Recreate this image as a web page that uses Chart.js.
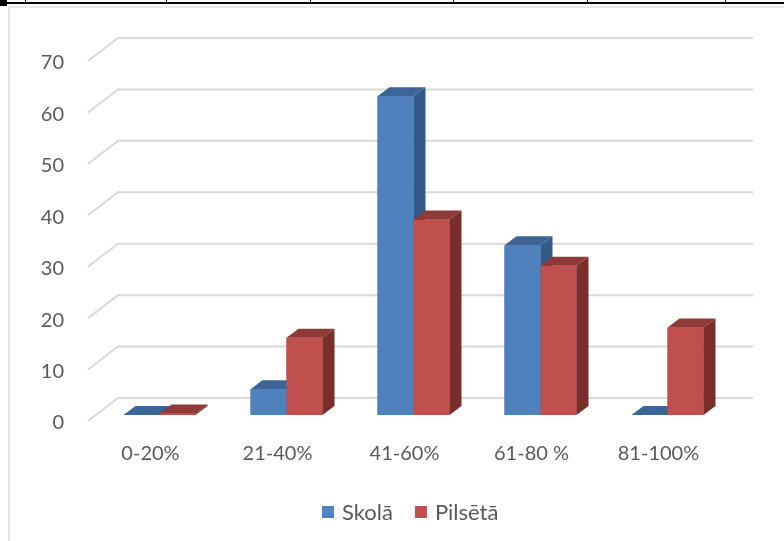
<!DOCTYPE html>
<html>
<head>
<meta charset="utf-8">
<script src="https://cdn.jsdelivr.net/npm/chart.js@4/dist/chart.umd.min.js"></script>
<style>
  html, body { margin: 0; padding: 0; background: #fff; }
  #wrap { position: relative; width: 784px; height: 541px; overflow: hidden; }
  #frame { position: absolute; left: 8px; top: 6px; width: 800px; height: 560px; border: 2px solid #e6e6e6; box-sizing: border-box; }
  .rule { position: absolute; left: 0; top: 2px; width: 784px; height: 2px; background: #000; }
  .tick { position: absolute; top: 0; width: 1px; height: 4px; background: #000; }
  canvas { position: absolute; left: 0; top: 0; }
</style>
</head>
<body>
<div id="wrap">
  <div id="frame"></div>
  <div class="rule"></div>
  <div class="tick" style="left:25px"></div>
  <div class="tick" style="left:166px"></div>
  <div class="tick" style="left:310px"></div>
  <div class="tick" style="left:453px"></div>
  <div class="tick" style="left:587px"></div>
  <div class="tick" style="left:725px"></div>
  <div class="tick" style="left:0px;width:7px;height:6px"></div>
  <canvas id="chart" width="784" height="541"></canvas>
</div>
<script>
// dati
const categories = ['0-20%', '21-40%', '41-60%', '61-80 %', '81-100%'];
const skola = [0, 5, 62, 33, 0];
const pilseta = [0.3, 15, 38, 29, 17];
const yTicks = [0, 10, 20, 30, 40, 50, 60, 70];

const FONT = '20px Lato, "Liberation Sans", sans-serif';
const LEGEND_FONT = '22px Lato, "Liberation Sans", sans-serif';
const TEXT = '#595959';
// 3D dziļums
const DX = 12, DY = -9;            // stabiņa dziļums
const WALL_DX = 22, WALL_DY = -17; // aizmugures siena
const FLOOR_DX = -8, FLOOR_DY = 6; // priekšējā mala

const faces = {
    Skolā: { top: '#3c6496', side: '#345a8a' },
    Pilsētā: { top: '#8e3a38', side: '#7a2e2c' }
};

const grid3d = {
    id: 'grid3d',
    beforeDatasetsDraw(chart) {
        const { ctx, chartArea, scales } = chart;
        ctx.save();
        ctx.strokeStyle = '#d9d9d9';
        ctx.lineWidth = 2;
        ctx.font = FONT;
        ctx.fillStyle = TEXT;
        ctx.textAlign = 'right';
        ctx.textBaseline = 'middle';
        yTicks.forEach(v => {
            const y = scales.y.getPixelForValue(v);
            ctx.beginPath();
            ctx.moveTo(chartArea.left + FLOOR_DX, y + FLOOR_DY);
            ctx.lineTo(chartArea.left + WALL_DX, y + WALL_DY);
            ctx.lineTo(chartArea.right + WALL_DX, y + WALL_DY);
            ctx.stroke();
            ctx.fillText(String(v), chartArea.left - 32, y + FLOOR_DY + 2);
        });
        ctx.textAlign = 'center';
        categories.forEach((c, i) => {
            const x = scales.x.getPixelForValue(i);
            ctx.fillText(c, x - 9, chartArea.bottom + 39);
        });
        ctx.restore();
    },
    // stabiņus pārzīmē kārtībā: zilais, tad sarkanais
    afterDatasetsDraw(chart) {
        const { ctx } = chart;
        ctx.save();
        chart.data.datasets.forEach((ds, di) => {
            const f = faces[ds.label];
            chart.getDatasetMeta(di).data.forEach(bar => {
                const p = bar.getProps(['x', 'y', 'base', 'width'], true);
                const l = p.x - p.width / 2, r = p.x + p.width / 2;
                const t = Math.min(p.y, p.base), b = p.base;
                ctx.fillStyle = ds.backgroundColor;
                ctx.fillRect(l, t, r - l, b - t);
                ctx.fillStyle = f.top;
                ctx.beginPath();
                ctx.moveTo(l, t);
                ctx.lineTo(l + DX, t + DY);
                ctx.lineTo(r + DX, t + DY);
                ctx.lineTo(r, t);
                ctx.closePath();
                ctx.fill();
                if (b - t > 0.5) {
                    ctx.fillStyle = f.side;
                    ctx.beginPath();
                    ctx.moveTo(r, t);
                    ctx.lineTo(r + DX, t + DY);
                    ctx.lineTo(r + DX, b + DY);
                    ctx.lineTo(r, b);
                    ctx.closePath();
                    ctx.fill();
                }
            });
        });
        ctx.restore();
    },
    afterDraw(chart) {
        const { ctx } = chart;
        ctx.save();
        ctx.font = LEGEND_FONT;
        ctx.textBaseline = 'middle';
        ctx.textAlign = 'left';
        let x = 322;
        const y = 512;
        chart.data.datasets.forEach(ds => {
            ctx.fillStyle = ds.backgroundColor;
            ctx.fillRect(x, y - 6, 12, 12);
            ctx.fillStyle = TEXT;
            ctx.fillText(ds.label, x + 20, y + 1);
            x += 20 + ctx.measureText(ds.label).width + 22;
        });
        ctx.restore();
    }
};

new Chart(document.getElementById('chart'), {
    type: 'bar',
    data: {
        labels: categories,
        datasets: [
            { label: 'Skolā', data: skola, backgroundColor: '#4f81bd' },
            { label: 'Pilsētā', data: pilseta, backgroundColor: '#c0504d' }
        ]
    },
    options: {
        responsive: false,
        animation: false,
        layout: { padding: { left: 96, right: 53, top: 55, bottom: 126 } },
        datasets: { bar: { barPercentage: 1, categoryPercentage: 0.567, borderWidth: 0 } },
        scales: {
            x: { display: false },
            y: { display: false, min: 0, max: 70 }
        },
        plugins: { legend: { display: false }, tooltip: { enabled: false } }
    },
    plugins: [grid3d]
});
</script>
</body>
</html>
